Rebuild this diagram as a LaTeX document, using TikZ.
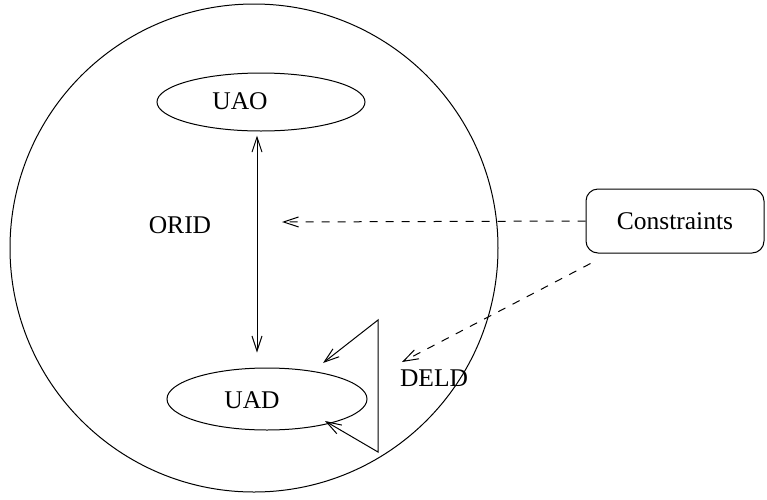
\documentclass[tikz,border=0pt]{standalone}
\usepackage{fontspec}
\setmainfont{Liberation Serif}
\usetikzlibrary{shapes.geometric, arrows.meta, calc, positioning}

\begin{document}
\begin{tikzpicture}[x=0.5pt, y=-0.5pt, line width=0.5pt,
      >={Straight Barb[length=7.5pt, width=5pt]},
      every node/.style={font=\fontsize{12.75}{15}\selectfont},
      entity/.style={draw, ellipse, inner sep=0pt},
      note/.style={draw, rounded corners=6pt, minimum width=89pt, minimum height=32pt},
      link/.style={->, dash pattern=on 4pt off 4pt}]
   \useasboundingbox (0,0) rectangle (767,499);
   % Outer circle
   \draw (254,248) circle [radius=244];
   % Entities
   \node[entity, minimum width=104pt, minimum height=29pt] (uao) at (261,102) {};
   \node (uaolabel) at (240,101) {UAO};
   \node[entity, minimum width=100pt, minimum height=31pt] (uad) at (267,399) {};
   \node (uadlabel) at (252,400) {UAD};
   % Labels
   \node (orid) at (180,225) {ORID};
   \node (deld) at (434,378) {DELD};
   \node[note] (constraints) at (675,221) {Constraints};
   % Free ends
   \coordinate (oridpt) at (282,222);
   \coordinate (deldpt) at (402,362);
   \coordinate (deldtop) at (378,320);
   \coordinate (deldbot) at (378,452);
   \coordinate (uadtop) at (323,363);
   \coordinate (uadbot) at (325,421);
   % ORID link
   \draw[<->] ($(uao.south)+(-4,4)$) -- ($(uad.north)+(-10,-15)$);
   % DELD link
   \draw[<->] (uadtop) -- (deldtop) -- (deldbot) -- (uadbot);
   % Constraints
   \draw[link] (constraints.west) -- (oridpt);
   \draw[link] ($(constraints.south west)+(5,10)$) -- (deldpt);
\end{tikzpicture}
\end{document}
